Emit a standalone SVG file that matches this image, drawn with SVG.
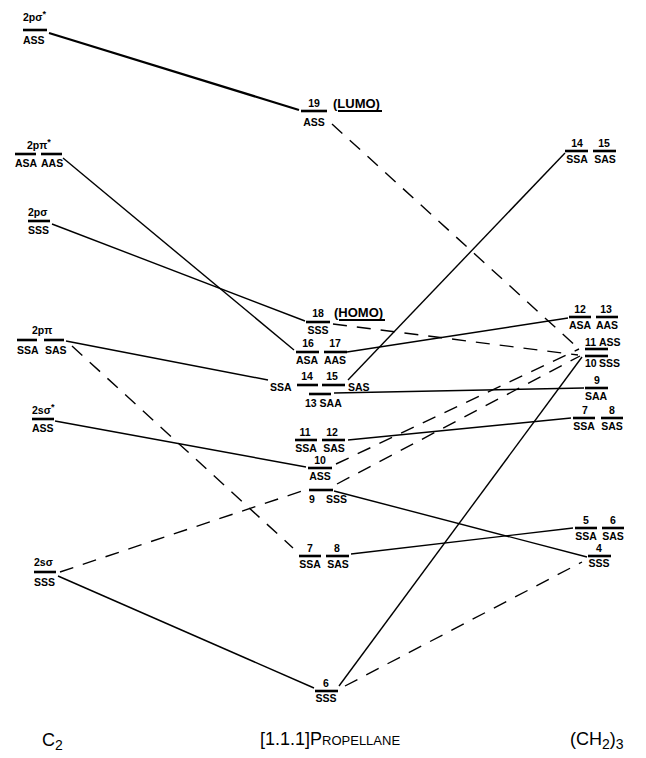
<svg xmlns="http://www.w3.org/2000/svg" width="646" height="758" viewBox="0 0 646 758">
<style>
text{font-family:"Liberation Sans","DejaVu Sans",sans-serif;font-size:10.5px;font-weight:bold;fill:#000}
.c{text-anchor:middle}
.sup{font-size:9px}
.lv{stroke:#000;stroke-width:2.6}
.s{stroke:#000;stroke-width:1.4;fill:none}
.t{stroke:#000;stroke-width:2.2;fill:none}
.d{stroke:#000;stroke-width:1.4;fill:none;stroke-dasharray:14 10}
.ul{stroke:#000;stroke-width:1.8}
.big{font-size:18px;font-weight:normal}
.sm{font-size:13px}
</style>
<rect width="646" height="758" fill="#fff"/>

<g id="connectors">
<line class="t" x1="49" y1="33" x2="299" y2="110"/>
<line class="s" x1="63" y1="158" x2="294" y2="350"/>
<line class="s" x1="52" y1="224" x2="305" y2="321"/>
<line class="s" x1="66" y1="341" x2="268" y2="380"/>
<line class="s" x1="55" y1="421" x2="306" y2="467"/>
<line class="s" x1="58" y1="576" x2="314" y2="688"/>
<line class="s" x1="347" y1="352" x2="568" y2="318"/>
<line class="s" x1="348" y1="380" x2="565" y2="153"/>
<line class="s" x1="334" y1="393" x2="584" y2="388"/>
<line class="s" x1="348" y1="440" x2="571" y2="418"/>
<line class="s" x1="334" y1="491" x2="587" y2="557"/>
<line class="s" x1="351" y1="554" x2="573" y2="528"/>
<line class="s" x1="339" y1="686" x2="582" y2="357"/>
<line class="d" x1="72" y1="346" x2="293" y2="548"/>
<line class="d" x1="60" y1="572" x2="305" y2="490"/>
<line class="d" x1="332" y1="124" x2="578" y2="348"/>
<line class="d" x1="333" y1="324" x2="578" y2="355"/>
<line class="d" x1="336" y1="464" x2="579" y2="349"/>
<line class="d" x1="337" y1="484" x2="580" y2="356"/>
<line class="d" x1="345" y1="686" x2="582" y2="562"/>
</g>

<!-- C2 column -->
<g id="c2-2psigma-star">
<text x="23" y="21">2pσ<tspan class="sup" dy="-4">*</tspan></text>
<line class="lv" x1="23" y1="30" x2="47" y2="30"/>
<text x="23" y="44">ASS</text>
</g>
<g id="c2-2ppi-star">
<text x="27" y="149">2pπ<tspan class="sup" dy="-4">*</tspan></text>
<line class="lv" x1="15" y1="154" x2="36" y2="154"/>
<line class="lv" x1="41" y1="154" x2="62" y2="154"/>
<text x="15" y="167">ASA</text>
<text x="41" y="167">AAS</text>
</g>
<g id="c2-2psigma">
<text x="28" y="216">2pσ</text>
<line class="lv" x1="28" y1="221" x2="50" y2="221"/>
<text x="28" y="234">SSS</text>
</g>
<g id="c2-2ppi">
<text x="32" y="334">2pπ</text>
<line class="lv" x1="17" y1="340" x2="37" y2="340"/>
<line class="lv" x1="44" y1="340" x2="64" y2="340"/>
<text x="17" y="354">SSA</text>
<text x="45" y="354">SAS</text>
</g>
<g id="c2-2ssigma-star">
<text x="32" y="414">2sσ<tspan class="sup" dy="-4">*</tspan></text>
<line class="lv" x1="32" y1="419" x2="54" y2="419"/>
<text x="32" y="432">ASS</text>
</g>
<g id="c2-2ssigma">
<text x="34" y="566">2sσ</text>
<line class="lv" x1="34" y1="572" x2="56" y2="572"/>
<text x="34" y="586">SSS</text>
</g>

<!-- Propellane column -->
<g id="p19">
<text class="c" x="314" y="107">19</text>
<line class="lv" x1="301" y1="111" x2="327" y2="111"/>
<text class="c" x="314" y="126">ASS</text>
<text x="333" y="108" class="sm">(LUMO)</text>
<line class="ul" x1="338" y1="111" x2="382" y2="111"/>
</g>
<g id="p18">
<text class="c" x="318" y="317">18</text>
<line class="lv" x1="306" y1="322" x2="330" y2="322"/>
<text class="c" x="318" y="334">SSS</text>
<text x="334" y="317" class="sm">(HOMO)</text>
<line class="ul" x1="339" y1="320" x2="385" y2="320"/>
</g>
<g id="p16-17">
<text class="c" x="308" y="347">16</text>
<text class="c" x="335" y="347">17</text>
<line class="lv" x1="296" y1="352" x2="319" y2="352"/>
<line class="lv" x1="324" y1="352" x2="347" y2="352"/>
<text class="c" x="307" y="364">ASA</text>
<text class="c" x="335" y="364">AAS</text>
</g>
<g id="p14-15">
<text class="c" x="307" y="380">14</text>
<text class="c" x="332" y="380">15</text>
<line class="lv" x1="297" y1="385" x2="318" y2="385"/>
<line class="lv" x1="322" y1="385" x2="345" y2="385"/>
<text x="270" y="391">SSA</text>
<text x="348" y="391">SAS</text>
</g>
<g id="p13">
<line class="lv" x1="309" y1="394" x2="331" y2="394"/>
<text x="305" y="407">13 SAA</text>
</g>
<g id="p11-12">
<text class="c" x="305" y="436">11</text>
<text class="c" x="332" y="436">12</text>
<line class="lv" x1="295" y1="440" x2="317" y2="440"/>
<line class="lv" x1="322" y1="440" x2="345" y2="440"/>
<text class="c" x="306" y="452">SSA</text>
<text class="c" x="334" y="452">SAS</text>
</g>
<g id="p10">
<text class="c" x="320" y="464">10</text>
<line class="lv" x1="308" y1="468" x2="332" y2="468"/>
<text class="c" x="320" y="480">ASS</text>
</g>
<g id="p9">
<line class="lv" x1="309" y1="490" x2="333" y2="490"/>
<text x="309" y="503">9</text>
<text x="326" y="503">SSS</text>
</g>
<g id="p7-8">
<text class="c" x="310" y="552">7</text>
<text class="c" x="337" y="552">8</text>
<line class="lv" x1="299" y1="556" x2="321" y2="556"/>
<line class="lv" x1="326" y1="556" x2="349" y2="556"/>
<text class="c" x="310" y="568">SSA</text>
<text class="c" x="338" y="568">SAS</text>
</g>
<g id="p6">
<text class="c" x="326" y="687">6</text>
<line class="lv" x1="315" y1="691" x2="338" y2="691"/>
<text class="c" x="326" y="702">SSS</text>
</g>

<!-- (CH2)3 column -->
<g id="t14-15">
<text class="c" x="577" y="147">14</text>
<text class="c" x="604" y="147">15</text>
<line class="lv" x1="565" y1="151" x2="588" y2="151"/>
<line class="lv" x1="593" y1="151" x2="616" y2="151"/>
<text class="c" x="577" y="163">SSA</text>
<text class="c" x="605" y="163">SAS</text>
</g>
<g id="t12-13">
<text class="c" x="580" y="313">12</text>
<text class="c" x="606" y="313">13</text>
<line class="lv" x1="569" y1="317" x2="591" y2="317"/>
<line class="lv" x1="596" y1="317" x2="618" y2="317"/>
<text class="c" x="580" y="329">ASA</text>
<text class="c" x="607" y="329">AAS</text>
</g>
<g id="t11">
<text x="585" y="346">11</text>
<text x="599" y="346">ASS</text>
<line class="lv" x1="585" y1="349" x2="608" y2="349"/>
</g>
<g id="t10">
<line class="lv" x1="585" y1="356" x2="608" y2="356"/>
<text x="585" y="367">10</text>
<text x="599" y="367">SSS</text>
</g>
<g id="t9">
<text class="c" x="597" y="384">9</text>
<line class="lv" x1="585" y1="388" x2="608" y2="388"/>
<text class="c" x="596" y="400">SAA</text>
</g>
<g id="t7-8">
<text class="c" x="585" y="414">7</text>
<text class="c" x="612" y="414">8</text>
<line class="lv" x1="573" y1="418" x2="595" y2="418"/>
<line class="lv" x1="601" y1="418" x2="623" y2="418"/>
<text class="c" x="584" y="430">SSA</text>
<text class="c" x="612" y="430">SAS</text>
</g>
<g id="t5-6">
<text class="c" x="586" y="524">5</text>
<text class="c" x="613" y="524">6</text>
<line class="lv" x1="575" y1="528" x2="597" y2="528"/>
<line class="lv" x1="602" y1="528" x2="624" y2="528"/>
<text class="c" x="586" y="540">SSA</text>
<text class="c" x="613" y="540">SAS</text>
</g>
<g id="t4">
<text class="c" x="599" y="552">4</text>
<line class="lv" x1="588" y1="556" x2="611" y2="556"/>
<text class="c" x="599" y="567">SSS</text>
</g>

<!-- column titles -->
<g id="title-c2">
<text x="42" y="746" class="big">C<tspan dy="4" font-size="14">2</tspan></text>
</g>
<g id="title-propellane">
<text x="260" y="745" class="big">[1.1.1]P<tspan font-size="13">ROPELLANE</tspan></text>
</g>
<g id="title-ch2">
<text x="570" y="745" class="big">(CH<tspan dy="4" font-size="14">2</tspan><tspan dy="-4">)</tspan><tspan dy="4" font-size="14">3</tspan></text>
</g>
</svg>
